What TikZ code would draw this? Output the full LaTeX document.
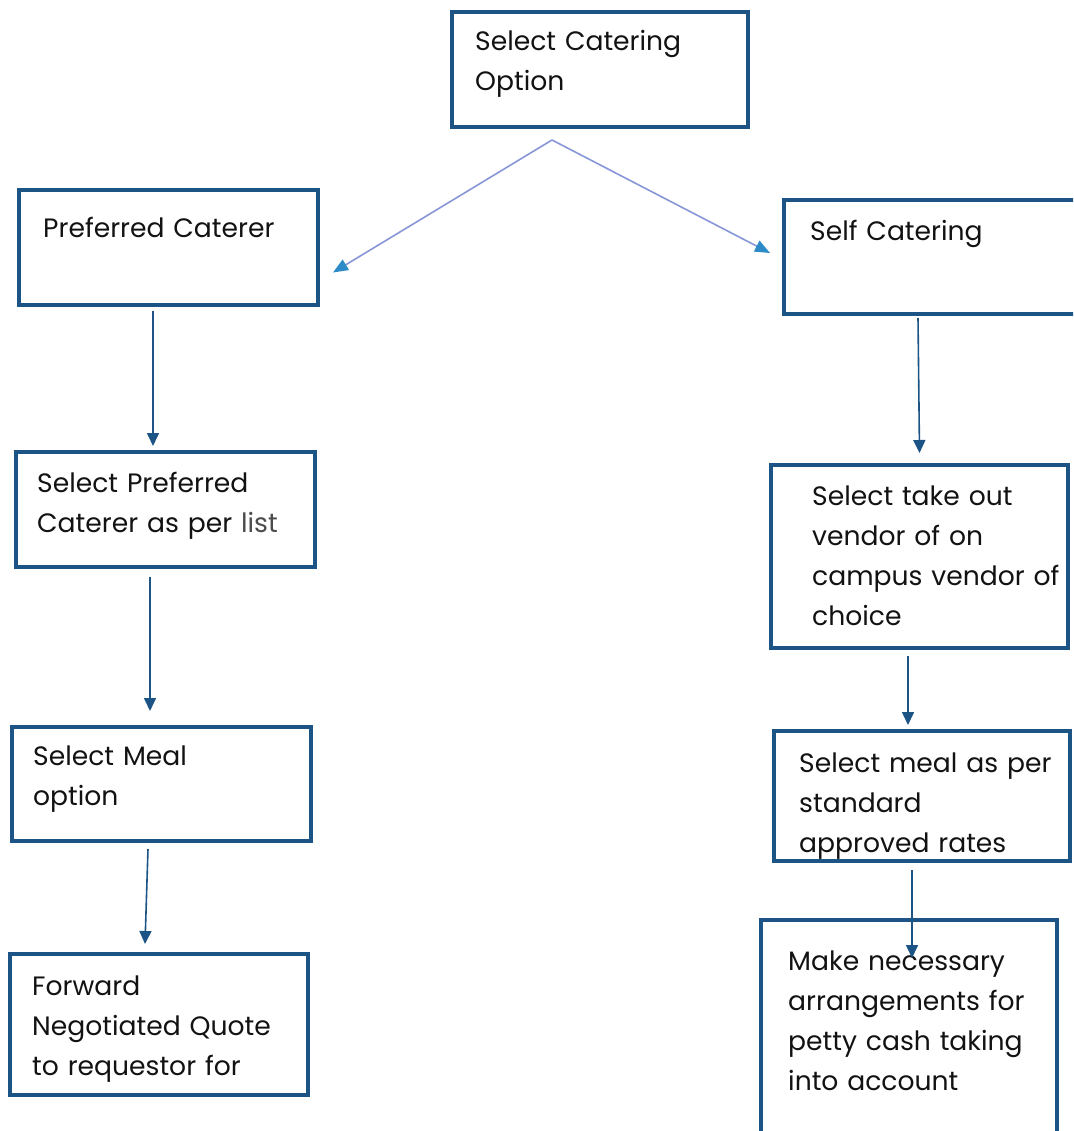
\documentclass[tikz,border=0pt]{standalone}
\usepackage{fontspec}
\setmainfont{Poppins}
\usetikzlibrary{positioning,arrows.meta}

\definecolor{boxblue}{RGB}{28,84,133}
\definecolor{linkline}{RGB}{135,150,215}
\definecolor{linktip}{RGB}{45,140,200}
\definecolor{inkgray}{RGB}{18,18,18}

\tikzset{
  stage/.style = {rectangle, draw=boxblue, line width=3.2pt, anchor=north west,
                  outer sep=0pt, inner sep=0pt},
  stagetext/.style = {anchor=north west, inner sep=0pt, align=left,
                      text width=290pt, text=inkgray,
                      font=\fontsize{26.6}{40}\selectfont},
  flow/.style = {draw=boxblue, line width=1.6pt,
                 -{Triangle[length=13pt,width=12pt]}},
  branch/.style = {draw=linkline, line width=1.6pt,
                   -{Triangle[length=15pt,width=12pt,color=linktip]}}
}

\begin{document}
\begin{tikzpicture}[x=1pt, y=-1pt]
  \useasboundingbox (0,0) rectangle (1073,1131);
  \clip (0,0) rectangle (1073,1131);

  % boxes
  \node[stage, minimum width=296pt, minimum height=115pt] (catopt) at (452,12) {};
  \node[stage, minimum width=299pt, minimum height=115pt] (prefcat) at (19,190) {};
  \node[stage, minimum width=296pt, minimum height=114pt] (selfcat) at (784,200) {};
  \node[stage, minimum width=299pt, minimum height=115pt] (selpref) at (16,452) {};
  \node[stage, minimum width=297pt, minimum height=183pt] (takeout) at (771,465) {};
  \node[stage, minimum width=299pt, minimum height=114pt] (selmeal) at (12,727) {};
  \node[stage, minimum width=296pt, minimum height=130pt] (mealrate) at (774,731) {};
  \node[stage, minimum width=298pt, minimum height=141pt] (fwdquote) at (10,954) {};
  \node[stage, minimum width=296pt, minimum height=230pt] (arrange) at (761,920) {};

  % texts
  \node[stagetext, below right=10pt and 23pt of catopt.north west] (catopt-t)
       {\strut Select Catering\\Option};
  \node[stagetext, below right=19pt and 24pt of prefcat.north west] (prefcat-t)
       {\strut Preferred Caterer};
  \node[stagetext, below right=12pt and 26pt of selfcat.north west] (selfcat-t)
       {\strut Self Catering};
  \node[stagetext, below right=12pt and 21pt of selpref.north west] (selpref-t)
       {\strut Select Preferred\\Caterer as per \textcolor{black!70}{list}};
  \node[stagetext, below right=12pt and 41pt of takeout.north west] (takeout-t)
       {\strut Select take out\\vendor of on\\campus vendor of\\choice};
  \node[stagetext, below right=10pt and 21pt of selmeal.north west] (selmeal-t)
       {\strut Select Meal\\option};
  \node[stagetext, below right=13pt and 25pt of mealrate.north west] (mealrate-t)
       {\strut Select meal as per\\standard\\approved rates};
  \node[stagetext, below right=13pt and 22pt of fwdquote.north west] (fwdquote-t)
       {\strut Forward\\Negotiated Quote\\to requestor for};
  \node[stagetext, below right=22pt and 27pt of arrange.north west] (arrange-t)
       {\strut Make necessary\\arrangements for\\petty cash taking\\into account};

  % connectors
  \coordinate (fork) at ([xshift=-48pt,yshift=-13pt]catopt.south);
  \draw[branch] (fork) -- ([xshift=15pt,yshift=-25pt]prefcat.east);
  \draw[branch] (fork) -- ([xshift=-14pt,yshift=4pt]selfcat.west);

  \draw[flow] ([xshift=-15.5pt,yshift=-6pt]prefcat.south) -- ([xshift=-12.5pt,yshift=6pt]selpref.north);
  \draw[flow] ([xshift=-15.5pt,yshift=-10pt]selpref.south) -- ([xshift=-11.5pt,yshift=16pt]selmeal.north);
  \draw[flow] ([xshift=-13.5pt,yshift=-8pt]selmeal.south) -- ([xshift=-14pt,yshift=10pt]fwdquote.north);
  \draw[flow] ([xshift=-14pt,yshift=-4pt]selfcat.south) -- ([yshift=12pt]takeout.north);
  \draw[flow] ([xshift=-11.5pt,yshift=-8pt]takeout.south) -- ([xshift=-14pt,yshift=6pt]mealrate.north);
  \draw[flow] ([xshift=-10pt,yshift=-9pt]mealrate.south) -- ([xshift=3pt,yshift=-38pt]arrange.north);
\end{tikzpicture}
\end{document}
